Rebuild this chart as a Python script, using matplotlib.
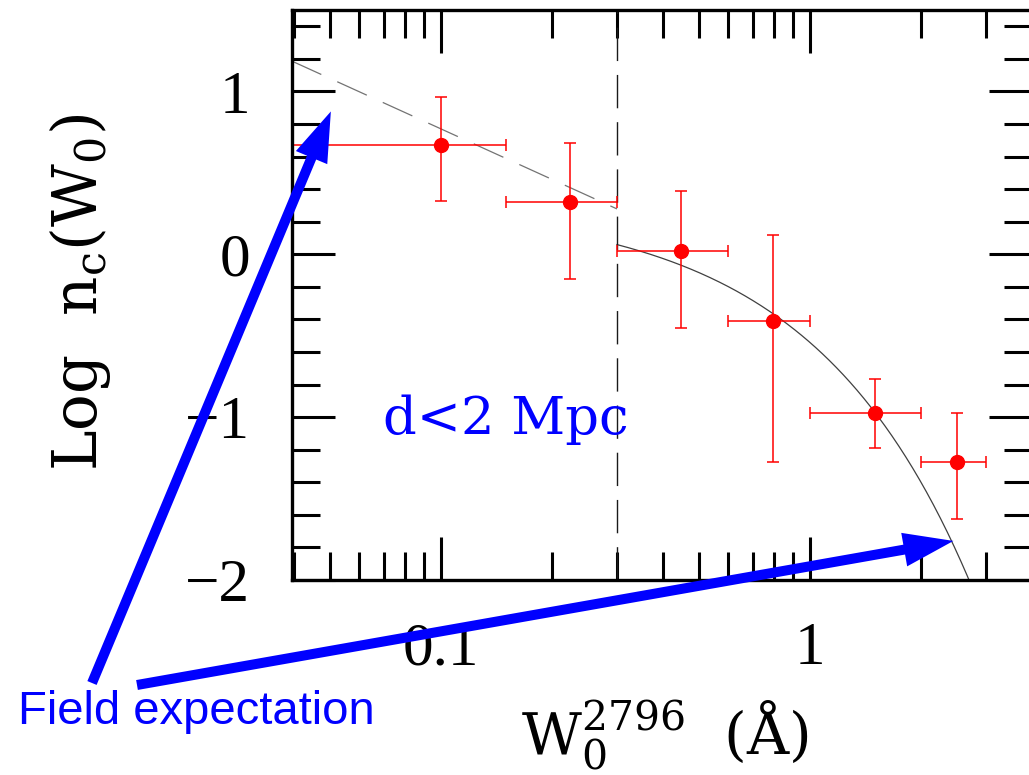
import numpy as np
import matplotlib
matplotlib.use("Agg")
import matplotlib.pyplot as plt
from matplotlib.ticker import FixedLocator, LogLocator, MultipleLocator, FuncFormatter, NullFormatter

plt.rcParams['font.family'] = ['Liberation Serif', 'DejaVu Serif']
plt.rcParams['mathtext.fontset'] = 'dejavuserif'
plt.rcParams['axes.unicode_minus'] = True

# binned data: W0 (A) and log n_c, with bin edges / error bar ends
w0 = np.array([0.10, 0.224, 0.447, 0.795, 1.50, 2.51])
w0_lo = np.array([0.03, 0.15, 0.30, 0.60, 1.00, 2.00])
w0_hi = np.array([0.15, 0.30, 0.60, 1.00, 2.00, 3.00])
logn = np.array([0.673, 0.319, 0.020, -0.407, -0.973, -1.276])
logn_lo = np.array([0.325, -0.154, -0.452, -1.278, -1.190, -1.625])
logn_hi = np.array([0.967, 0.683, 0.389, 0.117, -0.763, -0.973])

# field fits: power law below the break (dashed), exponential above (solid)
w_break = 0.3
pl_norm, pl_slope = -0.26, -1.03
exp_norm, exp_slope = 0.317, -0.858

xmin, xmax = 0.0394, 4.0

fig = plt.figure(figsize=(10.29, 7.75), dpi=100)
ax = fig.add_axes([0.2835, 0.2516, 0.7194, 0.7355])

w1 = np.geomspace(xmin, w_break, 60)
ax.plot(w1, pl_norm + pl_slope * np.log10(w1), color='0.45', lw=0.9, dashes=(26, 14))
w2 = np.geomspace(w_break, xmax, 300)
ax.plot(w2, exp_norm + exp_slope * w2, color='0.25', lw=0.9)
ax.axvline(w_break, color='0.1', lw=1.0, dashes=(24, 10))

ax.errorbar(w0, logn, xerr=[w0 - w0_lo, w0_hi - w0], yerr=[logn - logn_lo, logn_hi - logn],
            fmt='o', color='red', ms=10, lw=1.1, capsize=4.6, capthick=1.1)

ax.set_xscale('log')
ax.set_xlim(xmin, xmax)
ax.set_ylim(-2, 1.5)
ax.xaxis.set_major_locator(FixedLocator([0.1, 1]))
ax.xaxis.set_minor_locator(LogLocator(subs=np.arange(2, 10)))
ax.xaxis.set_major_formatter(FuncFormatter(lambda v, p: f'{v:g}'))
ax.xaxis.set_minor_formatter(NullFormatter())
ax.yaxis.set_major_locator(MultipleLocator(1))
ax.yaxis.set_minor_locator(MultipleLocator(0.2))

ax.tick_params(which='both', direction='in', top=True, right=True, width=2.2)
ax.tick_params(which='major', length=31, pad=30, labelsize=44)
ax.tick_params(which='minor', length=20)
for s in ax.spines.values():
    s.set_linewidth(2.4)

fig.text(80 / 1029, 1 - 292 / 775, r'$\mathrm{Log\ \ n_c(W_0)}$', fontsize=44,
         rotation=90, ha='center', va='center')
fig.text(665 / 1029, 1 - 735 / 775, r'$\mathrm{W_0^{2796}\ \ (Å)}$', fontsize=42,
         ha='center', va='center')

ax.text(0.289, 0.281, 'd<2 Mpc', transform=ax.transAxes, fontsize=38, color='blue',
        family='DejaVu Serif', ha='center', va='center')

fig.text(18 / 1029, 63 / 775, 'Field expectation', fontsize=34, color='blue',
         family='Liberation Sans', ha='left', va='center')

arrow = dict(arrowstyle='simple,head_length=1,head_width=0.68,tail_width=0.2',
             mutation_scale=36, color='blue', lw=0, shrinkA=0, shrinkB=0)
ax.annotate('', xy=(0.0503, 0.877), xycoords='data', xytext=(92, 92),
            textcoords='figure pixels', arrowprops=arrow, annotation_clip=False)
ax.annotate('', xy=(2.45, -1.76), xycoords='data', xytext=(137, 90),
            textcoords='figure pixels', arrowprops=arrow, annotation_clip=False)

fig.savefig('out.png', dpi=100)
